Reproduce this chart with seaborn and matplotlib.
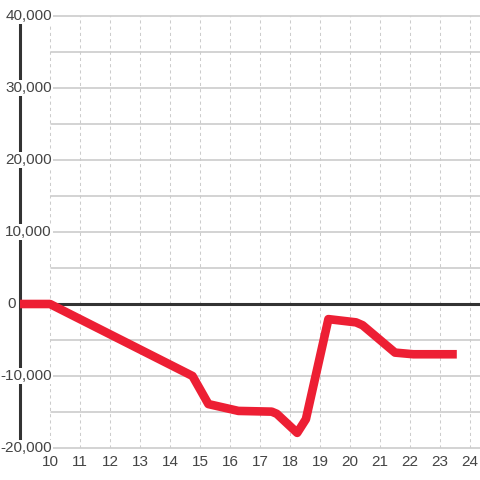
import numpy as np
import matplotlib
matplotlib.use("Agg")
import matplotlib.pyplot as plt
import matplotlib.transforms as mtransforms
import seaborn as sns

# values
hours = [9, 10, 14.75, 15.28, 16.28, 17.39, 17.56, 18.24, 18.53,
         19.28, 20.2, 20.42, 21.5, 22.11, 23.56]
balance = [0, 0, -10000, -13900, -14850, -14950, -15250, -17900, -16000,
           -2100, -2550, -2950, -6750, -6980, -6980]
x_ticks = list(range(10, 25))
y_ticks = [-20000, -10000, 0, 10000, 20000, 30000, 40000]
y_grid = list(range(-20000, 40001, 5000))

sns.set_style("white")
plt.rcParams['font.family'] = ['Liberation Sans', 'DejaVu Sans']

fig = plt.figure(figsize=(4.8, 4.8), dpi=100)
ax = fig.add_axes([20 / 480, 32 / 480, 460 / 480, 432 / 480])

txt = "#444444"

# grid
for v in y_grid:
    if v == 0:
        continue
    ax.axhline(v, xmin=31 / 460, color="#c8c8c8", lw=1.1, zorder=1, clip_on=False)
for x in x_ticks:
    ax.axvline(x, color="#cccccc", lw=0.75, ls=(0, (3, 3)), zorder=1)
ax.axhline(0, color="#333333", lw=2.2, zorder=2)

sns.lineplot(x=hours, y=balance, ax=ax, color="#ed1f34", linewidth=6.2,
             sort=False, zorder=4)
for line in ax.lines[-1:]:
    line.set_solid_capstyle("butt")
    line.set_solid_joinstyle("round")

ax.set_xlim(9, 24 + 1 / 3)
ax.set_ylim(-20000, 40000)

ax.set_xticks(x_ticks)
ax.set_xticklabels([str(t) for t in x_ticks])
ax.tick_params(axis="x", length=0, pad=5, labelsize=11, labelcolor=txt)
ax.set_yticks([])

for s in ["top", "right", "bottom"]:
    ax.spines[s].set_visible(False)
ax.spines["left"].set_color("#333333")
ax.spines["left"].set_linewidth(2.2)
ax.spines["left"].set_zorder(2.5)

trans = mtransforms.blended_transform_factory(fig.transFigure, ax.transData)
for v in y_ticks:
    xr = 16 / 480 if v == 0 else 52 / 480
    ax.text(xr, v, "{:,}".format(v), transform=trans, ha="right", va="center",
            fontsize=11, color=txt, zorder=5, clip_on=False,
            bbox=dict(facecolor="white", edgecolor="none", pad=1))

ax.set_xlabel("")
ax.set_ylabel("")

fig.savefig("out.png", dpi=100)
